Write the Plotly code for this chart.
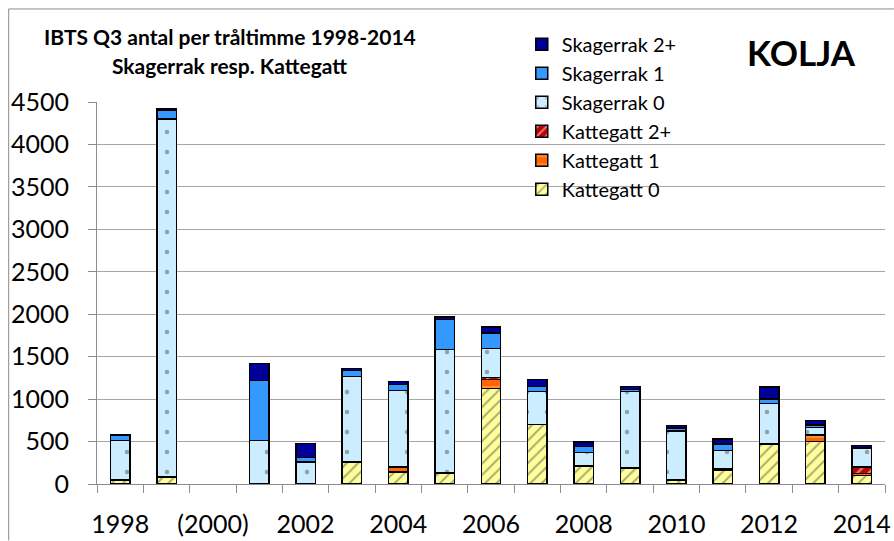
import plotly.graph_objects as go

years = list(range(1998, 2015))
kattegatt_0 = [45, 80, None, 0, 0, 260, 140, 132, 1123, 703, 210, 190, 45, 165, 474, 501, 100]
kattegatt_1 = [0, 0, None, 0, 0, 0, 62, 0, 110, 0, 0, 0, 0, 15, 0, 79, 25]
kattegatt_2 = [0, 0, None, 0, 0, 0, 0, 0, 23, 0, 0, 0, 0, 0, 0, 0, 77]
skagerrak_0 = [465, 4220, None, 510, 260, 1005, 902, 1450, 340, 385, 163, 898, 580, 213, 474, 88, 221]
skagerrak_1 = [60, 100, None, 710, 55, 70, 66, 358, 180, 63, 67, 28, 32, 77, 51, 28, 5]
skagerrak_2 = [15, 15, None, 200, 160, 25, 40, 30, 75, 80, 53, 35, 30, 58, 144, 50, 27]

tick_years = [1998, 2000, 2002, 2004, 2006, 2008, 2010, 2012, 2014]
tick_text = ["1998", "(2000)", "2002", "2004", "2006", "2008", "2010", "2012", "2014"]

FONT = "Lato"

series = [
    ("Kattegatt 0", kattegatt_0, "#FFFF99", dict(shape="/", fgcolor="#555555", size=8, solidity=0.25)),
    ("Kattegatt 1", kattegatt_1, "#FF6600", dict(shape="-", fgcolor="#FFD0A0", size=10, solidity=0.15)),
    ("Kattegatt 2+", kattegatt_2, "#C00000", dict(shape="/", fgcolor="#FFFFFF", size=8, solidity=0.3)),
    ("Skagerrak 0", skagerrak_0, "#CCECFF", dict(shape=".", fgcolor="#555555", size=20, solidity=0.04)),
    ("Skagerrak 1", skagerrak_1, "#3399FF", None),
    ("Skagerrak 2+", skagerrak_2, "#000099", None),
]

fig = go.Figure()
for name, vals, color, pattern in series:
    marker = dict(color=color, line=dict(color="black", width=1.5))
    if pattern:
        marker["pattern"] = pattern
    fig.add_trace(go.Bar(x=years, y=vals, name=name, marker=marker, width=0.42))

# plot area pixels: x 97..891, y 102..488
W, H = 894, 541
L, R, T, B = 97, 3, 102, 53
pw, ph = W - L - R, H - T - B

def px(x):
    return (x - L) / pw

def py(y):
    return (H - B - y) / ph

fig.update_layout(
    width=W, height=H, autosize=False,
    margin=dict(l=L, r=R, t=T, b=B),
    barmode="stack",
    plot_bgcolor="white", paper_bgcolor="white",
    font=dict(family=FONT, color="black"),
    showlegend=True,
    legend=dict(
        x=px(525), y=py(24), xanchor="left", yanchor="top",
        traceorder="reversed", font=dict(family=FONT, size=20, color="black"),
        bgcolor="rgba(0,0,0,0)", borderwidth=0,
    ),
    xaxis=dict(
        range=[1997.5, 2014.5], tickmode="array", tickvals=tick_years, ticktext=tick_text,
        ticks="", showgrid=False, showline=True, linecolor="#8C8C8C", linewidth=1,
        tickfont=dict(family=FONT, size=25, color="black"), zeroline=False,
        minor=dict(tickvals=[y + 0.5 for y in range(1997, 2015)], ticks="outside",
                   ticklen=8, tickcolor="#8C8C8C", showgrid=False),
        ticklabelstandoff=18, ticklabeloverflow="allow",
    ),
    yaxis=dict(
        range=[0, 4500], dtick=500, tick0=0, ticks="outside", ticklen=8, tickcolor="#8C8C8C",
        showgrid=True, gridcolor="#A6A6A6", gridwidth=1, showline=True, linecolor="#8C8C8C",
        tickfont=dict(family=FONT, size=25, color="black"), zeroline=False,
        ticklabelstandoff=14,
    ),
    annotations=[
        dict(text="<b>IBTS Q3 antal per tråltimme 1998-2014</b>", x=px(231), y=py(36),
             xref="paper", yref="paper", xanchor="center", yanchor="middle", showarrow=False,
             font=dict(family=FONT, size=21, color="black")),
        dict(text="<b>Skagerrak resp. Kattegatt</b>", x=px(231), y=py(65),
             xref="paper", yref="paper", xanchor="center", yanchor="middle", showarrow=False,
             font=dict(family=FONT, size=21, color="black")),
        dict(text="<b>KOLJA</b>", x=px(807), y=py(51),
             xref="paper", yref="paper", xanchor="center", yanchor="middle", showarrow=False,
             font=dict(family=FONT, size=35, color="black")),
    ],
    shapes=[
        dict(type="line", xref="paper", yref="paper", x0=px(8), x1=px(8), y0=py(8), y1=py(545),
             line=dict(color="#8C8C8C", width=1)),
        dict(type="line", xref="paper", yref="paper", x0=px(8), x1=px(900), y0=py(8), y1=py(8),
             line=dict(color="#8C8C8C", width=1)),
    ],
)

fig.write_html("out.html", config={"displayModeBar": False},
               post_script="document.body.style.margin='0';document.body.style.padding='0';")
